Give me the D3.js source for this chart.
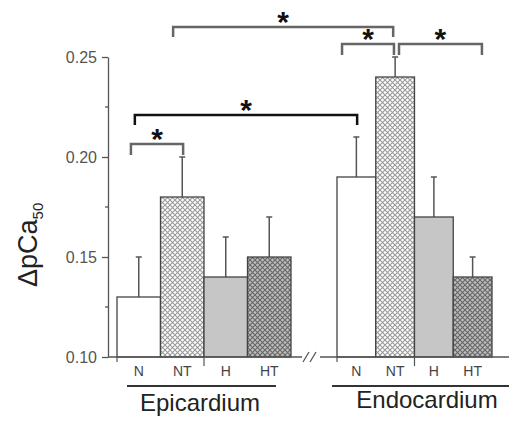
<!DOCTYPE html>
<html><head><meta charset="utf-8">
<script src="https://cdn.jsdelivr.net/npm/d3@7"></script>
<style>body{margin:0;background:#fff}svg{display:block}</style>
</head><body>
<svg id="c" width="509" height="423"></svg>
<script>
const categories = ["N","NT","H","HT"];
const groups = ["Epicardium","Endocardium"];
const epiValues = [0.13,0.18,0.14,0.15];
const epiErrors = [0.02,0.02,0.02,0.02];
const endoValues = [0.19,0.24,0.17,0.14];
const endoErrors = [0.02,0.01,0.02,0.01];
const yTicks = [0.10,0.15,0.20,0.25];
const yMinorTicks = [0.125,0.175,0.225];
// significance comparisons: [group, category, fraction within band]
const comparisons = [
  {a:["Epicardium","NT",0.29], b:["Endocardium","NT",0.45], y:0.265, yEnd:0.26},
  {a:["Epicardium","N",0.41], b:["Endocardium","N",0.52], y:0.221, yEnd:0.216, dark:true},
  {a:["Epicardium","N",0.32], b:["Epicardium","NT",0.52], y:0.2065, yEnd:0.201},
  {a:["Endocardium","N",0.13], b:["Endocardium","NT",0.47], y:0.2565, yEnd:0.251},
  {a:["Endocardium","NT",0.6], b:["Endocardium","HT",0.74], y:0.2565, yEnd:0.251}
];

const svg = d3.select("#c");
const font = "'Liberation Sans', Arial, sans-serif";
const y = d3.scaleLinear().domain([0.10,0.25]).range([357,57]);
const xs = {
  Epicardium: d3.scaleBand().domain(categories).range([117,291]).padding(0),
  Endocardium: d3.scaleBand().domain(categories).range([337,492]).padding(0)
};
const data = {Epicardium: categories.map((c,i)=>({c, v:epiValues[i], e:epiErrors[i]})),
              Endocardium: categories.map((c,i)=>({c, v:endoValues[i], e:endoErrors[i]}))};

// patterns
const defs = svg.append("defs");
function hatch(id, bg, stroke, size, sw){
  const p = defs.append("pattern").attr("id",id).attr("patternUnits","userSpaceOnUse")
    .attr("width",size).attr("height",size);
  p.append("rect").attr("width",size).attr("height",size).attr("fill",bg);
  p.append("path").attr("d",`M0,0L${size},${size}M${size},0L0,${size}`)
    .attr("stroke",stroke).attr("stroke-width",sw);
}
hatch("pNT","#ffffff","#9a9a9a",5,1.1);
hatch("pHT","#bdbdbd","#666666",5,1.1);
const fills = {N:"#ffffff", NT:"url(#pNT)", H:"#c6c6c6", HT:"url(#pHT)"};

const axisCol = "#555";
groups.forEach(g=>{
  const x = xs[g];
  const eb = svg.append("g");
  data[g].forEach(d=>{
    const cx = x(d.c)+x.bandwidth()/2;
    eb.append("line").attr("x1",cx).attr("x2",cx).attr("y1",y(d.v)).attr("y2",y(d.v+d.e))
      .attr("stroke","#555").attr("stroke-width",1.5);
    eb.append("line").attr("x1",cx-3).attr("x2",cx+3).attr("y1",y(d.v+d.e)).attr("y2",y(d.v+d.e))
      .attr("stroke","#555").attr("stroke-width",1.5);
  });
  svg.append("g").selectAll("rect").data(data[g]).join("rect")
    .attr("x",d=>x(d.c)).attr("width",x.bandwidth())
    .attr("y",d=>y(d.v)).attr("height",d=>y(0.10)-y(d.v))
    .attr("fill",d=>fills[d.c]).attr("stroke","#444").attr("stroke-width",1.3);
  svg.append("g").selectAll("text").data(categories).join("text")
    .attr("x",c=>x(c)+x.bandwidth()/2).attr("y",376)
    .attr("text-anchor","middle").attr("font-family",font).attr("font-size",14)
    .attr("fill","#444").text(c=>c);
  [x("N"), x("H")].forEach((tx,i)=>{
    svg.append("line").attr("x1",tx).attr("x2",tx).attr("y1",357).attr("y2",i?366:362)
      .attr("stroke",axisCol).attr("stroke-width",1.2);
  });
});

// y axis
const yAxis = d3.axisLeft(y).tickValues(yTicks).tickFormat(d3.format(".2f")).tickSize(6).tickSizeOuter(0);
const ga = svg.append("g").attr("transform","translate(108,0)").call(yAxis);
ga.select(".domain").attr("stroke",axisCol).attr("stroke-width",1.3);
ga.selectAll(".tick line").attr("stroke",axisCol).attr("stroke-width",1.3);
ga.selectAll(".tick text").attr("font-family",font).attr("font-size",16).attr("fill","#555").attr("x",-11);
svg.append("g").selectAll("line").data(yMinorTicks).join("line")
  .attr("x1",105).attr("x2",108).attr("y1",d=>y(d)).attr("y2",d=>y(d))
  .attr("stroke",axisCol).attr("stroke-width",1.3);

// baseline with break
svg.append("line").attr("x1",108).attr("x2",302).attr("y1",y(0.10)).attr("y2",y(0.10)).attr("stroke",axisCol).attr("stroke-width",1.3);
svg.append("line").attr("x1",320).attr("x2",509).attr("y1",y(0.10)).attr("y2",y(0.10)).attr("stroke",axisCol).attr("stroke-width",1.3);
[0,7].forEach(o=>svg.append("line").attr("x1",303+o).attr("x2",309+o).attr("y1",362).attr("y2",352)
  .attr("stroke",axisCol).attr("stroke-width",1.3));

// group underline + labels
[["Epicardium",127,276,200,411],["Endocardium",332,509,427,408]].forEach(([g,x1,x2,tx,ty])=>{
  svg.append("line").attr("x1",x1).attr("x2",x2).attr("y1",386).attr("y2",386).attr("stroke","#333").attr("stroke-width",2);
  svg.append("text").attr("x",tx).attr("y",ty).attr("text-anchor","middle").attr("font-family",font)
    .attr("font-size",24).attr("fill","#222").text(g);
});

// y label
const yl = svg.append("text").attr("transform","translate(37,287) rotate(-90)")
  .attr("font-family",font).attr("font-size",27).attr("fill","#222");
yl.append("tspan").text("\u0394pCa");
yl.append("tspan").attr("font-size",15).attr("dy",6).text("50");

// brackets
const px = ([g,c,f]) => xs[g](c) + f*xs[g].bandwidth();
comparisons.forEach(cmp=>{
  const x1 = px(cmp.a), x2 = px(cmp.b);
  svg.append("path").attr("d",`M${x1},${y(cmp.yEnd)}V${y(cmp.y)}H${x2}V${y(cmp.yEnd)}`)
    .attr("fill","none").attr("stroke",cmp.dark?"#111":"#666").attr("stroke-width",2.5);
  svg.append("text").attr("x",(x1+x2)/2).attr("y",y(cmp.y)+5)
    .attr("text-anchor","middle").attr("font-family",font).attr("font-size",30).attr("font-weight","bold")
    .attr("fill","#111").text("*");
});
</script>
</body></html>
